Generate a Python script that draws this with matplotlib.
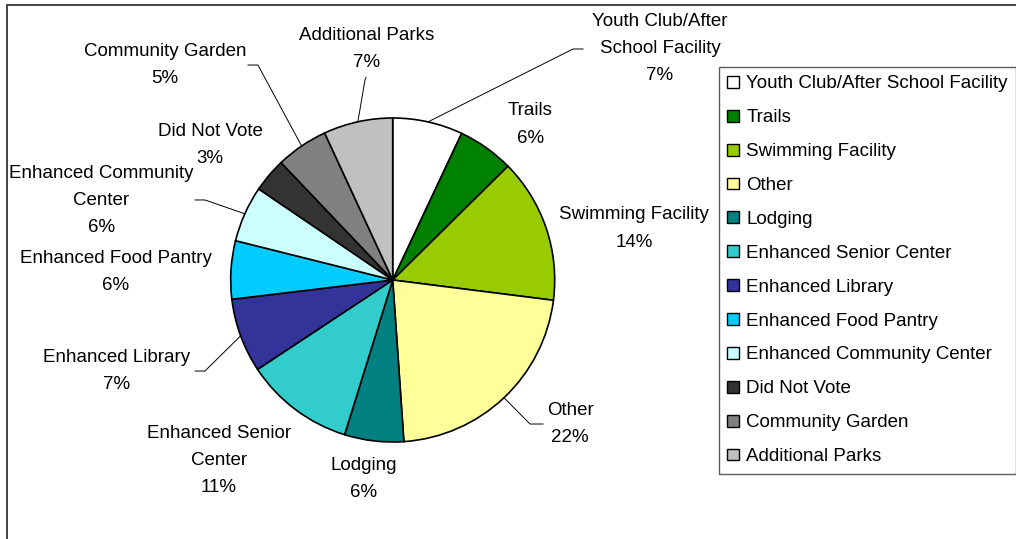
import matplotlib.pyplot as plt
from matplotlib.patches import Patch, Rectangle
import numpy as np

plt.rcParams['font.family'] = ['Liberation Sans', 'DejaVu Sans']

# slice data (percent of votes), clockwise from 12 o'clock
names = ['Youth Club/After School Facility', 'Trails', 'Swimming Facility', 'Other',
         'Lodging', 'Enhanced Senior Center', 'Enhanced Library', 'Enhanced Food Pantry',
         'Enhanced Community Center', 'Did Not Vote', 'Community Garden', 'Additional Parks']
values = [7.0, 5.6, 14.4, 21.9, 5.9, 10.9, 7.4, 5.8, 5.6, 3.4, 5.2, 6.9]
colors = ['#FFFFFF', '#008000', '#99CC00', '#FFFF99', '#008080', '#33CCCC',
          '#333399', '#00CCFF', '#CCFFFF', '#333333', '#808080', '#C0C0C0']

# how the labels are broken into lines on the chart
label_text = ['Youth Club/After\nSchool Facility', 'Trails', 'Swimming Facility', 'Other',
              'Lodging', 'Enhanced Senior\nCenter', 'Enhanced Library', 'Enhanced Food Pantry',
              'Enhanced Community\nCenter', 'Did Not Vote', 'Community Garden', 'Additional Parks']

# label placement in pie-radius units
label_pos = [(1.65, 1.43), (0.848, 0.96), (1.49, 0.318), (1.095, -0.89),
             (-0.177, -1.23), (-1.072, -1.115), (-1.702, -0.56), (-1.708, 0.052),
             (-1.80, 0.49), (-1.128, 0.833), (-1.406, 1.326), (-0.159, 1.428)]
# leader line elbow / end, None = no leader
leaders = [((1.113, 1.426), (1.175, 1.426)), None, None, ((0.848, -0.889), (0.928, -0.889)),
           None, None, ((-1.159, -0.562), (-1.22, -0.562)), None,
           ((-1.159, 0.494), (-1.22, 0.494)), None, ((-0.832, 1.327), (-0.893, 1.327)),
           ((-0.171, 1.235), (-0.165, 1.25))]

W, H = 1016, 539
cx, cy, R = 392.7, 280, 162
fig = plt.figure(figsize=(W / 100, H / 100), dpi=100)
ax = fig.add_axes([0, 0, 1, 1])

# outer chart frame
fig.patches.append(Rectangle((7 / W, -0.1), 1.2, 1 - 5 / H + 0.1, transform=fig.transFigure,
                             fill=False, edgecolor='#333333', linewidth=1.3))

wedges, _ = ax.pie(values, colors=colors, startangle=90, counterclock=False, radius=1,
                   wedgeprops=dict(edgecolor='black', linewidth=1.2))
ax.set_xlim(-cx / R, (W - cx) / R)
ax.set_ylim(-(H - cy) / R, cy / R)
ax.set_aspect('equal')
ax.axis('off')

fs = 13.5
for i, w in enumerate(wedges):
    pct = '%d%%' % round(values[i])
    x, y = label_pos[i]
    ax.text(x, y, label_text[i] + '\n' + pct, ha='center', va='center',
            fontsize=fs, linespacing=1.78, color='black')
    if leaders[i] is not None:
        mid = np.deg2rad((w.theta1 + w.theta2) / 2)
        sx, sy = np.cos(mid), np.sin(mid)
        (ex, ey), (tx, ty) = leaders[i]
        ax.plot([sx, ex, tx], [sy, ey, ty], color='black', linewidth=0.7)

handles = [Patch(facecolor=c, edgecolor='black', linewidth=1) for c in colors]
leg = fig.legend(handles, names, loc='upper left', bbox_to_anchor=(719 / W, 1 - 67 / H),
                 fontsize=fs, frameon=True, fancybox=False, handlelength=0.6,
                 handleheight=0.6, handletextpad=0.4, labelspacing=0.9,
                 borderpad=0.45, borderaxespad=0)
leg.get_frame().set_edgecolor('#333333')
leg.get_frame().set_linewidth(1)

fig.savefig('out.png', dpi=100)
